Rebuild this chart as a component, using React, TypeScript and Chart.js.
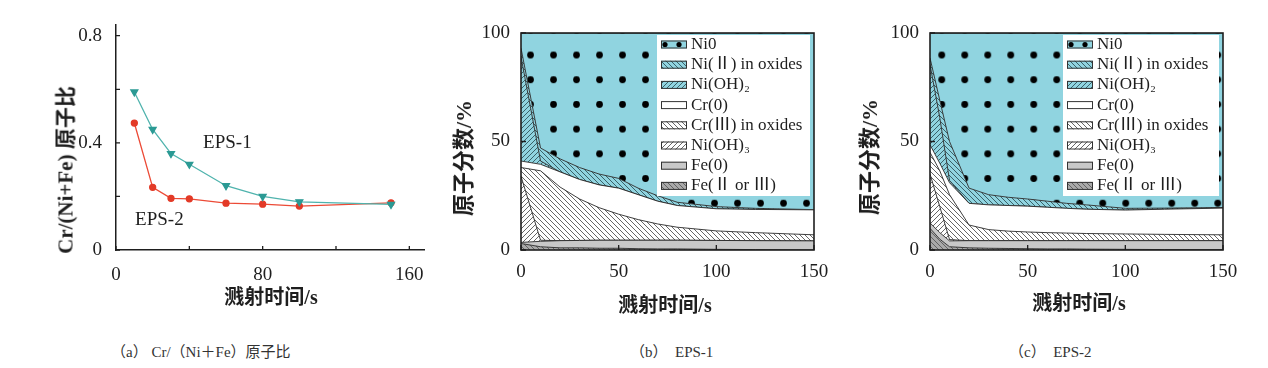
import React, { useEffect, useRef } from 'react';
import { Chart, registerables } from 'chart.js';
Chart.register(...registerables);

// ---------- (a) Cr/(Ni+Fe) ratio ----------
const timeA = [10, 20, 30, 40, 60, 80, 100, 150];
const eps1 = [0.59, 0.45, 0.36, 0.32, 0.24, 0.2, 0.18, 0.17];
const eps2 = [0.474, 0.234, 0.193, 0.191, 0.175, 0.171, 0.164, 0.176];
const ticksAx = [0, 40, 80, 120, 160];
const labelsAx = [0, 80, 160];
const ticksAy = [0, 0.2, 0.4, 0.6, 0.8];
const labelsAy = [0, 0.4, 0.8];

// ---------- stacked series labels (bottom -> top) ----------
const seriesLabels = ['Fe(Ⅱ or Ⅲ)', 'Fe(0)', 'Ni(OH)₃', 'Cr(Ⅲ) in oxides', 'Cr(0)', 'Ni(OH)₂', 'Ni(Ⅱ) in oxides', 'Ni0'];

// ---------- (b) EPS-1 ----------
const timeB = [0, 10, 20, 30, 40, 50, 60, 70, 80, 100, 120, 150];
const bFeII = [3, 1.5, 1, 1, 0.8, 0.8, 0.6, 0.5, 0.5, 0.3, 0.2, 0];
const bFe0 = [0.5, 2.5, 3.3, 3.4, 3.7, 3.7, 3.9, 4.0, 4.0, 4.1, 4.1, 4.2];
const bNiOH3 = [30.5, 0.5, 0, 0, 0, 0, 0, 0, 0, 0, 0, 0];
const bCrIII = [4, 32, 24.7, 19.1, 15, 12, 9.5, 7.5, 6, 4.4, 3.7, 2.8];
const bCr0 = [3, 3, 7, 9, 10.5, 12, 11.5, 10.5, 10, 10.2, 10.7, 11.5];
const bNiOH2 = [48, 1.5, 0, 0, 0, 0, 0, 0, 0, 0, 0, 0];
const bNiII = [4, 6, 6, 5.5, 5, 4.5, 3, 2.5, 1.5, 1, 0.5, 0.1];
const bNi0 = [7, 53, 58, 62, 65, 67, 71.5, 75, 78, 80, 80.8, 81.4];

// ---------- (c) EPS-2 ----------
const timeC = [0, 5, 10, 20, 30, 40, 50, 60, 70, 80, 100, 120, 150];
const cFeII = [10, 5, 1.5, 1, 0.8, 0.7, 0.6, 0.5, 0.5, 0.4, 0.3, 0.2, 0.2];
const cFe0 = [2.5, 3, 2.7, 3.3, 3.5, 3.6, 3.7, 3.8, 3.8, 3.9, 4.0, 4.1, 4.1];
const cNiOH3 = [22.5, 12, 0.6, 0, 0, 0, 0, 0, 0, 0, 0, 0, 0];
const cCrIII = [10, 16.5, 20.7, 7.2, 5.1, 4.4, 4.0, 3.7, 3.5, 3.3, 3.1, 2.9, 2.7];
const cCr0 = [3.5, 3.5, 5.5, 10, 11.4, 11.8, 11.9, 11.7, 11.4, 11.2, 11.0, 11.6, 12.3];
const cNiOH2 = [37, 21, 1, 0, 0, 0, 0, 0, 0, 0, 0, 0, 0];
const cNiII = [3, 8, 18, 7, 4.7, 3.8, 3.3, 2.8, 2.3, 2.0, 0.8, 0.5, 0.3];
const cNi0 = [11.5, 31, 50, 71.5, 74.5, 75.7, 76.5, 77.5, 78.5, 79.2, 80.8, 80.7, 80.4];

const ticksBx = [0, 50, 100, 150];
const ticksBy = [0, 50, 100];

const SERIF = "'Liberation Serif', 'Times New Roman', 'Noto Sans CJK SC', serif";
const TEAL = '#90d4e0';
const INK = '#1e1e1e';

Chart.defaults.font.family = SERIF;
Chart.defaults.color = INK;

function hatch(bg: string, dir: 'fwd' | 'back', color = '#3a3a3a', size = 5, lw = 0.85) {
  const c = document.createElement('canvas');
  c.width = size; c.height = size;
  const g = c.getContext('2d')!;
  g.fillStyle = bg; g.fillRect(0, 0, size, size);
  g.strokeStyle = color; g.lineWidth = lw;
  g.beginPath();
  if (dir === 'fwd') {
    g.moveTo(-1, 1); g.lineTo(1, -1);
    g.moveTo(0, size); g.lineTo(size, 0);
    g.moveTo(size - 1, size + 1); g.lineTo(size + 1, size - 1);
  } else {
    g.moveTo(-1, size - 1); g.lineTo(1, size + 1);
    g.moveTo(0, 0); g.lineTo(size, size);
    g.moveTo(size - 1, -1); g.lineTo(size + 1, 1);
  }
  g.stroke();
  return g.createPattern(c, 'repeat')!;
}

function dotPattern() {
  const c = document.createElement('canvas');
  c.width = 23; c.height = 25;
  const g = c.getContext('2d')!;
  g.fillStyle = TEAL; g.fillRect(0, 0, 23, 25);
  g.fillStyle = '#000';
  g.beginPath(); g.arc(11.5, 12.5, 3.4, 0, Math.PI * 2); g.fill();
  return g.createPattern(c, 'repeat')!;
}

function inwardTicks(xt: number[], yt: number[], len: number, frame: boolean) {
  return {
    id: 'inTicks',
    afterDraw(chart: any) {
      const { ctx, chartArea: ca, scales } = chart;
      ctx.save();
      ctx.strokeStyle = INK;
      ctx.lineWidth = 1.3;
      ctx.beginPath();
      xt.forEach((v) => { const px = scales.x.getPixelForValue(v); ctx.moveTo(px, ca.bottom); ctx.lineTo(px, ca.bottom - len); });
      yt.forEach((v) => { const py = scales.y.getPixelForValue(v); ctx.moveTo(ca.left, py); ctx.lineTo(ca.left + len, py); });
      ctx.stroke();
      if (frame) {
        ctx.lineWidth = 1.6;
        ctx.strokeRect(ca.left, ca.top, ca.right - ca.left, ca.bottom - ca.top);
      }
      ctx.restore();
    },
  };
}

function makeA(canvas: HTMLCanvasElement) {
  const textPlugin = {
    id: 'epsText',
    afterDatasetsDraw(chart: any) {
      const { ctx, scales } = chart;
      ctx.save();
      ctx.font = `19px ${SERIF}`;
      ctx.fillStyle = INK;
      ctx.textBaseline = 'middle';
      ctx.fillText('EPS-1', scales.x.getPixelForValue(47.5), scales.y.getPixelForValue(0.4));
      ctx.fillText('EPS-2', scales.x.getPixelForValue(10.4), scales.y.getPixelForValue(0.112));
      ctx.restore();
    },
  };
  return new Chart(canvas, {
    type: 'line',
    data: {
      datasets: [
        {
          label: 'EPS-1',
          data: timeA.map((t, i) => ({ x: t, y: eps1[i] })),
          borderColor: '#4fb3ad',
          backgroundColor: '#2b9a94',
          pointBorderColor: '#2b9a94',
          borderWidth: 1.3,
          pointStyle: 'triangle',
          rotation: 180,
          pointRadius: 4,
        },
        {
          label: 'EPS-2',
          data: timeA.map((t, i) => ({ x: t, y: eps2[i] })),
          borderColor: '#ec4a36',
          backgroundColor: '#e33a27',
          pointBorderColor: '#e33a27',
          borderWidth: 1.3,
          pointStyle: 'circle',
          pointRadius: 3,
        },
      ],
    },
    options: {
      responsive: false,
      animation: false,
      layout: { padding: { left: 0, top: 25, right: 16, bottom: 0 } },
      plugins: { legend: { display: false }, tooltip: { enabled: false } },
      scales: {
        x: {
          type: 'linear', min: 0, max: 168,
          grid: { display: false },
          border: { display: true, color: INK, width: 1.5 },
          afterBuildTicks: (s: any) => { s.ticks = ticksAx.map((v) => ({ value: v })); },
          afterFit: (s: any) => { s.height = 50; },
          ticks: {
            autoSkip: false, maxRotation: 0, padding: 6, color: INK,
            font: { size: 19 },
            callback: (v: any) => (labelsAx.includes(Number(v)) ? String(v) : ''),
          },
        },
        y: {
          type: 'linear', min: 0, max: 0.84,
          grid: { display: false },
          border: { display: true, color: INK, width: 1.5 },
          afterBuildTicks: (s: any) => { s.ticks = ticksAy.map((v) => ({ value: v })); },
          afterFit: (s: any) => { s.width = 116; },
          ticks: {
            autoSkip: false, padding: 6, color: INK,
            font: { size: 19 },
            callback: (v: any) => (labelsAy.some((l) => Math.abs(l - Number(v)) < 1e-9) ? String(Number(v)) : ''),
          },
        },
      },
    },
    plugins: [textPlugin, inwardTicks(ticksAx, ticksAy, 4, false)],
  } as any);
}

function makeStack(canvas: HTMLCanvasElement, times: number[], series: number[][], dotDx: number, legW: number) {
  const dots = dotPattern();
  const fills = [
    hatch('#a9a9a9', 'back', '#555'),
    '#c8c8c8',
    hatch('#ffffff', 'fwd', '#4a4a4a'),
    hatch('#ffffff', 'back', '#4a4a4a'),
    '#ffffff',
    hatch(TEAL, 'fwd', '#2a4b52'),
    hatch(TEAL, 'back', '#2a4b52'),
    dots,
  ];
  const datasets = series.map((vals, k) => ({
    label: seriesLabels[k],
    data: times.map((t, i) => ({ x: t, y: vals[i] })),
    backgroundColor: fills[k],
    borderColor: '#2a2a2a',
    borderWidth: 0.9,
    pointRadius: 0,
    fill: k === 0 ? 'origin' : '-1',
    tension: 0,
  }));

  const dotAlign = {
    id: 'dotAlign',
    beforeDatasetsDraw(chart: any) {
      const ca = chart.chartArea;
      (dots as any).setTransform(new DOMMatrix().translate(ca.left + dotDx - 11.5, ca.top + 22 - 12.35).scale(1, 0.988));
    },
  };

  const legendPlugin = {
    id: 'boxLegend',
    afterDatasetsDraw(chart: any) {
      const { ctx, chartArea: ca } = chart;
      const left = ca.right - legW;
      const right = ca.right - 4;
      const top = ca.top + 2;
      const bottom = ca.top + 163;
      ctx.save();
      ctx.fillStyle = '#ffffff';
      ctx.fillRect(left, top, right - left, bottom - top);
      ctx.font = `17px ${SERIF}`;
      ctx.textBaseline = 'middle';
      for (let r = 0; r < 8; r++) {
        const k = 7 - r;
        const cy = top + 9.5 + r * 20.2;
        const sx = left + 4;
        const sw = 26;
        const sh = 8;
        if (k === 7) {
          ctx.fillStyle = TEAL;
          ctx.fillRect(sx, cy - sh / 2, sw, sh);
          ctx.fillStyle = '#000';
          [sx + 4, sx + 18].forEach((dx) => { ctx.beginPath(); ctx.arc(dx, cy, 2.6, 0, Math.PI * 2); ctx.fill(); });
        } else {
          ctx.fillStyle = fills[k] as any;
          ctx.fillRect(sx, cy - sh / 2, sw, sh);
        }
        ctx.strokeStyle = '#333';
        ctx.lineWidth = 1;
        ctx.strokeRect(sx + 0.5, cy - sh / 2 + 0.5, sw - 1, sh - 1);
        ctx.fillStyle = INK;
        ctx.fillText(seriesLabels[k], sx + sw + 4, cy);
      }
      ctx.restore();
    },
  };

  return new Chart(canvas, {
    type: 'line',
    data: { datasets },
    options: {
      responsive: false,
      animation: false,
      layout: { padding: { left: 0, top: 33, right: 26, bottom: 0 } },
      plugins: { legend: { display: false }, tooltip: { enabled: false } },
      scales: {
        x: {
          type: 'linear', min: 0, max: 150,
          grid: { display: false },
          border: { display: false },
          afterBuildTicks: (s: any) => { s.ticks = ticksBx.map((v) => ({ value: v })); },
          afterFit: (s: any) => { s.height = 50; },
          ticks: { autoSkip: false, maxRotation: 0, padding: 3, color: INK, font: { size: 19 } },
        },
        y: {
          type: 'linear', min: 0, max: 100, stacked: true,
          grid: { display: false },
          border: { display: false },
          afterBuildTicks: (s: any) => { s.ticks = ticksBy.map((v) => ({ value: v })); },
          afterFit: (s: any) => { s.width = 81; },
          ticks: { autoSkip: false, padding: 3, color: INK, font: { size: 19 } },
        },
      },
    },
    plugins: [dotAlign, legendPlugin, inwardTicks(ticksBx, ticksBy, 5, true)],
  } as any);
}

const cjkTitle: React.CSSProperties = {
  position: 'absolute',
  whiteSpace: 'nowrap',
  fontFamily: "'Liberation Serif', 'Noto Sans CJK SC', serif",
  fontWeight: 600,
  color: INK,
  lineHeight: 1,
};

function YTitle({ x, y, text, size }: { x: number; y: number; text: string; size: number }) {
  return (
    <div style={{ ...cjkTitle, left: x, top: y, fontSize: size, transform: 'translate(-50%, -50%) rotate(-90deg)' }}>{text}</div>
  );
}
function XTitle({ x, y, text, size }: { x: number; y: number; text: string; size: number }) {
  return <div style={{ ...cjkTitle, left: x, top: y, fontSize: size, transform: 'translate(-50%, -50%)' }}>{text}</div>;
}
function Caption({ x, y, text }: { x: number; y: number; text: string }) {
  return (
    <div style={{ position: 'absolute', left: x, top: y, transform: 'translateY(-50%)', whiteSpace: 'pre', fontFamily: "'Liberation Serif', 'Noto Sans CJK SC', serif", fontSize: 15, color: '#333', lineHeight: 1 }}>{text}</div>
  );
}

export default function App() {
  const refA = useRef<HTMLCanvasElement>(null);
  const refB = useRef<HTMLCanvasElement>(null);
  const refC = useRef<HTMLCanvasElement>(null);
  useEffect(() => {
    const charts = [
      makeA(refA.current!),
      makeStack(refB.current!, timeB, [bFeII, bFe0, bNiOH3, bCrIII, bCr0, bNiOH2, bNiII, bNi0], 9.5, 157),
      makeStack(refC.current!, timeC, [cFeII, cFe0, cNiOH3, cCrIII, cCr0, cNiOH2, cNiII, cNi0], 11.7, 160),
    ];
    return () => charts.forEach((c) => c.destroy());
  }, []);
  return (
    <div style={{ position: 'absolute', left: 0, top: 0, width: 1268, height: 368, background: '#fff', overflow: 'hidden' }}>
      <canvas ref={refA} width={440} height={300} style={{ position: 'absolute', left: 0, top: 0 }} />
      <canvas ref={refB} width={400} height={300} style={{ position: 'absolute', left: 440, top: 0 }} />
      <canvas ref={refC} width={400} height={300} style={{ position: 'absolute', left: 849, top: 0 }} />
      <YTitle x={66} y={170} text="Cr/(Ni+Fe) 原子比" size={21} />
      <XTitle x={271} y={297} text="溅射时间/s" size={20} />
      <YTitle x={464} y={158} text="原子分数/%" size={22} />
      <XTitle x={665} y={305} text="溅射时间/s" size={20} />
      <YTitle x={870} y={157} text="原子分数/%" size={22} />
      <XTitle x={1079} y={303} text="溅射时间/s" size={20} />
      <Caption x={111} y={352} text="（a） Cr/（Ni＋Fe）原子比" />
      <Caption x={630} y={352} text="（b）  EPS-1" />
      <Caption x={1009} y={352} text="（c）  EPS-2" />
    </div>
  );
}
